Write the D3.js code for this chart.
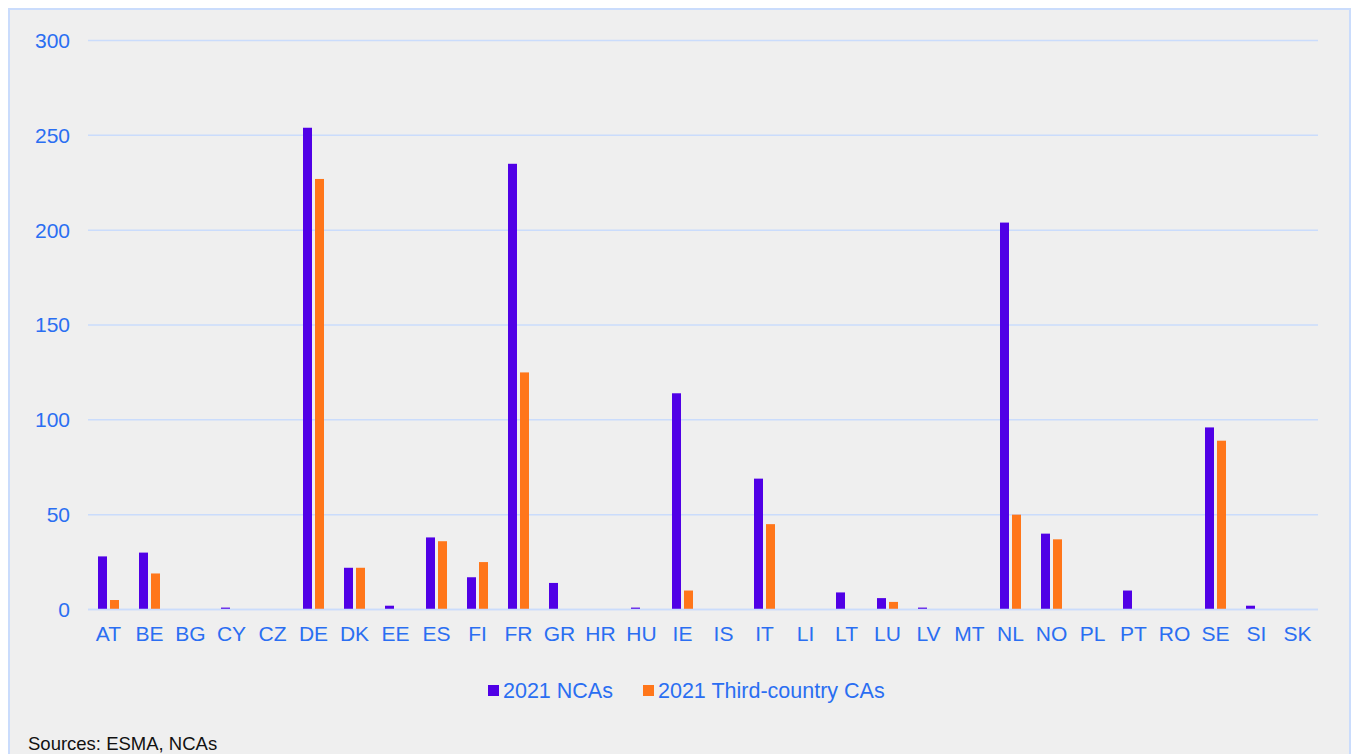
<!DOCTYPE html>
<html><head><meta charset="utf-8">
<script src="https://cdn.jsdelivr.net/npm/d3@7"></script>
<style>
html,body{margin:0;padding:0;background:#fff;}
svg{display:block;font-family:"Liberation Sans",Arial,sans-serif;}
</style></head>
<body><svg id="c" width="1359" height="754"></svg>
<script>
const categories = ["AT","BE","BG","CY","CZ","DE","DK","EE","ES","FI","FR","GR","HR","HU","IE","IS","IT","LI","LT","LU","LV","MT","NL","NO","PL","PT","RO","SE","SI","SK"];
const ncas =        [28,30,0,1,0,254,22,2,38,17,235,14,0,1,114,0,69,0,9,6,1,0,204,40,0,10,0,96,2,0];
const thirdCountry = [5,19,0,0,0,227,22,0,36,25,125,0,0,0,10,0,45,0,0,4,0,0,50,37,0,0,0,89,0,0];
const seriesNames = ["2021 NCAs","2021 Third-country CAs"];
const yTicks = [0,50,100,150,200,250,300];
const source = "Sources: ESMA, NCAs";

const colors = ["#5000E6","#FF761A"];
const textColor = "#2A6EF2";
const gridColor = "#CADCFC";

const svg = d3.select("#c");
svg.append("rect").attr("x",9).attr("y",9).attr("width",1341).attr("height",760)
  .attr("fill","#EFEFEF").attr("stroke",gridColor).attr("stroke-width",2);

const x = d3.scaleBand().domain(categories).range([88,1318]);
const y = d3.scaleLinear().domain([0,300]).range([609.5,40.5]);

// gridlines
svg.append("g").selectAll("line").data(yTicks).join("line")
  .attr("x1",88).attr("x2",1318)
  .attr("y1",d=>y(d)).attr("y2",d=>y(d))
  .attr("stroke",gridColor).attr("stroke-width",1.5);

// y tick labels
svg.append("g").selectAll("text").data(yTicks).join("text")
  .attr("x",70).attr("y",d=>y(d)).attr("dy","0.35em")
  .attr("text-anchor","end").attr("fill",textColor).attr("font-size",21)
  .text(d=>d);

const series = [ncas, thirdCountry];
const bw = 9, gap = 3;
series.forEach((vals,si)=>{
  svg.append("g").selectAll("rect").data(categories).join("rect")
    .attr("x",(c)=> x(c)+x.bandwidth()/2 + (si===0 ? -gap/2-bw : gap/2))
    .attr("width",bw)
    .attr("y",(c,i)=> y(vals[i]))
    .attr("height",(c,i)=> y(0)-y(vals[i]))
    .attr("fill",colors[si]);
});

// redraw zero line on top
svg.append("line").attr("x1",88).attr("x2",1318).attr("y1",y(0)).attr("y2",y(0))
  .attr("stroke",gridColor).attr("stroke-width",1.5);

// x labels
svg.append("g").selectAll("text").data(categories).join("text")
  .attr("x",c=>x(c)+x.bandwidth()/2).attr("y",641)
  .attr("text-anchor","middle").attr("fill",textColor).attr("font-size",21)
  .text(c=>c);

// legend
const leg = svg.append("g");
const legX = [488, 643];
seriesNames.forEach((n,i)=>{
  leg.append("rect").attr("x",legX[i]).attr("y",685).attr("width",11).attr("height",11).attr("fill",colors[i]);
  leg.append("text").attr("x",legX[i]+15).attr("y",698).attr("fill",textColor).attr("font-size",21.5).text(n);
});

svg.append("text").attr("x",28).attr("y",750).attr("fill","#111").attr("font-size",18.5).text(source);
</script></body></html>
